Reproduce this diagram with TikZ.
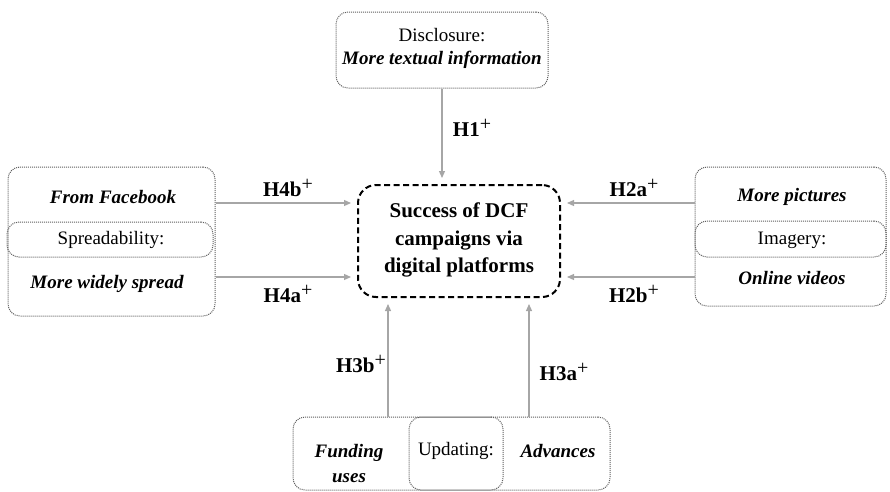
\documentclass[tikz,border=0pt]{standalone}
\usepackage{fontspec}
\setmainfont{Liberation Serif}
\usetikzlibrary{arrows.meta}
\definecolor{arrgray}{HTML}{A6A6A6}
\definecolor{dotgray}{HTML}{5E5E5E}
\newcommand{\plussup}{\raisebox{0.62ex}{\fontsize{20}{20}\selectfont\mdseries +}}
\begin{document}
\begin{tikzpicture}[x=1pt,y=-1pt,
  dotbox/.style={draw=dotgray, line width=1pt, dash pattern=on 1pt off 1pt, rounded corners=12pt, inner sep=0pt},
  ctrbox/.style={draw=black, line width=2pt, dash pattern=on 6pt off 3.5pt, rounded corners=18pt, inner sep=0pt},
  boxtxt/.style={font=\fontsize{19}{23}\selectfont, align=center, inner sep=0pt},
  emtxt/.style={font=\fontsize{19}{25}\selectfont\bfseries\itshape, align=center, inner sep=0pt},
  ctrtxt/.style={font=\fontsize{21}{27.5}\selectfont\bfseries, align=center, inner sep=0pt},
  hlab/.style={font=\fontsize{21}{25}\selectfont\bfseries, inner sep=0pt},
  arr/.style={draw=arrgray, line width=1.2pt, -{Triangle[length=7pt,width=6pt]}, shorten >=6pt}
]
\useasboundingbox (0,0) rectangle (890,491);

% top box
\node[dotbox, minimum width=212pt, minimum height=76pt] (top) at (442,50) {};
\node[boxtxt] (disc) at (442,48.5) {Disclosure:\\\bfseries\itshape More textual information};

% center box
\node[ctrbox, minimum width=202pt, minimum height=112pt] (ctr) at (459,241) {};
\node[ctrtxt] (ctrt) at (459,240) {Success of DCF\\campaigns via\\digital platforms};

% left box
\node[dotbox, minimum width=207pt, minimum height=149pt] (lout) at (111.5,241.5) {};
\node[dotbox, minimum width=206pt, minimum height=35pt] (lin) at (110,239.5) {};
\node[emtxt] (fb) at (113,197) {From Facebook};
\node[boxtxt] (spr) at (111,240) {Spreadability:};
\node[emtxt] (mws) at (107,284) {More widely spread};

% right box
\node[dotbox, minimum width=191pt, minimum height=139pt] (rout) at (790.5,236.5) {};
\node[dotbox, minimum width=191pt, minimum height=36pt] (rin) at (790.5,239) {};
\node[emtxt] (mp) at (792,197) {More pictures};
\node[boxtxt] (img) at (792,240) {Imagery:};
\node[emtxt] (ov) at (792,278) {Online videos};

% bottom box
\node[dotbox, minimum width=317pt, minimum height=73pt] (bout) at (451.5,453.5) {};
\node[dotbox, minimum width=94pt, minimum height=73pt] (bin) at (456,453.5) {};
\node[emtxt] (fu) at (349,464) {Funding\\uses};
\node[boxtxt] (upd) at (456,451) {Updating:};
\node[emtxt] (adv) at (558,451) {Advances};

% helper coordinates
\coordinate (ya) at (0,203);
\coordinate (yb) at (0,277);
\coordinate (xa) at (388,0);
\coordinate (xb) at (529,0);

% arrows
\draw[arr] (top.south) -- (top.south |- ctr.north);
\draw[arr] (lout.east |- ya) -- (ctr.west |- ya);
\draw[arr] (lout.east |- yb) -- (ctr.west |- yb);
\draw[arr] (rout.west |- ya) -- (ctr.east |- ya);
\draw[arr] (rout.west |- yb) -- (ctr.east |- yb);
\draw[arr] (bout.north -| xa) -- (ctr.south -| xa);
\draw[arr] (bout.north -| xb) -- (ctr.south -| xb);

% labels
\node[hlab] (h1) at (472,128) {H1\plussup};
\node[hlab] (h4b) at (288,188) {H4b\plussup};
\node[hlab] (h4a) at (288,294) {H4a\plussup};
\node[hlab] (h2a) at (634,188) {H2a\plussup};
\node[hlab] (h2b) at (634,294) {H2b\plussup};
\node[hlab] (h3b) at (361,364) {H3b\plussup};
\node[hlab] (h3a) at (564,372) {H3a\plussup};
\end{tikzpicture}
\end{document}
